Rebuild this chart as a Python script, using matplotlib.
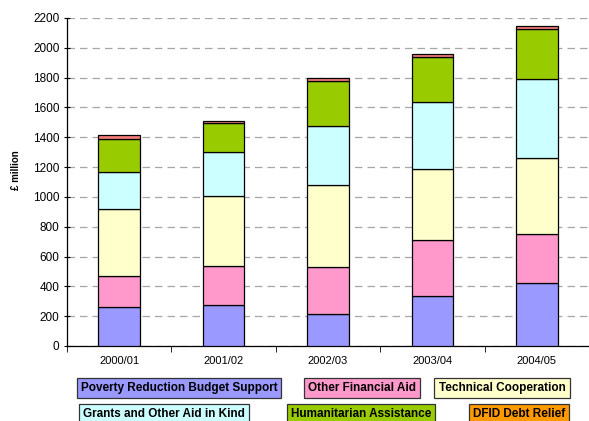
import matplotlib
matplotlib.use("Agg")
import matplotlib.pyplot as plt
import numpy as np

plt.rcParams['font.family'] = ['Liberation Sans', 'DejaVu Sans']

# 数据
years = ["2000/01", "2001/02", "2002/03", "2003/04", "2004/05"]
poverty = [264, 273, 215, 338, 425]
other_fin = [206, 262, 313, 371, 328]
tech_coop = [449, 469, 552, 480, 510]
grants = [250, 295, 393, 446, 526]
humanitarian = [217, 194, 305, 302, 337]
debt_relief = [27, 18, 17, 20, 18]

series_names = ["Poverty Reduction Budget Support", "Other Financial Aid",
                "Technical Cooperation", "Grants and Other Aid in Kind",
                "Humanitarian Assistance", "DFID Debt Relief"]
series = [poverty, other_fin, tech_coop, grants, humanitarian, debt_relief]
bar_colors = ["#9999FF", "#FF99CC", "#FFFFCC", "#CCFFFF", "#99CC00", "#F47C7C"]
legend_colors = ["#9999FF", "#FF99CC", "#FFFFCC", "#CCFFFF", "#99CC00", "#FF9900"]

fig = plt.figure(figsize=(5.89, 4.21), dpi=100)
ax = fig.add_axes([67 / 589, 1 - 346 / 421, 522 / 589, 328 / 421])

x = np.arange(len(years))
bottom = np.zeros(len(years))
for vals, col in zip(series, bar_colors):
    ax.bar(x, vals, 0.4, bottom=bottom, color=col, edgecolor="black",
           linewidth=0.9, zorder=3)
    bottom += np.array(vals)

ax.set_xlim(-0.5, 4.5)
ax.set_ylim(0, 2200)
ax.set_yticks(range(0, 2201, 200))
ax.yaxis.grid(True, linestyle=(0, (6, 4)), color="#A6A6A6", linewidth=0.9, zorder=0)
ax.tick_params(axis="y", direction="inout", length=5, labelsize=8.5, pad=3)

ax.set_xticks(x)
ax.set_xticklabels(years, fontsize=8)
ax.set_xticks(np.arange(-0.5, 4.6, 1), minor=True)
ax.tick_params(axis="x", which="major", length=0, pad=7)
ax.tick_params(axis="x", which="minor", direction="out", length=4)

for s in ["top", "right"]:
    ax.spines[s].set_visible(False)
ax.spines["left"].set_linewidth(0.9)
ax.spines["bottom"].set_linewidth(0.9)

ax.set_ylabel("£ million", fontsize=7, fontweight="bold")
ax.yaxis.set_label_coords(-0.088, 0.537)

# 图例：每项单独的方框
legend_pos = [(179, 388), (362, 388), (502, 388),
              (164, 414), (361, 414), (519, 414)]
for name, col, (px, py) in zip(series_names, legend_colors, legend_pos):
    fig.text(px / 589, 1 - py / 421, name, ha="center", va="center",
             fontsize=8.5, fontweight="bold",
             bbox=dict(boxstyle="square,pad=0.35", facecolor=col,
                       edgecolor="#333333", linewidth=0.9))

fig.savefig("out.png", dpi=100)
